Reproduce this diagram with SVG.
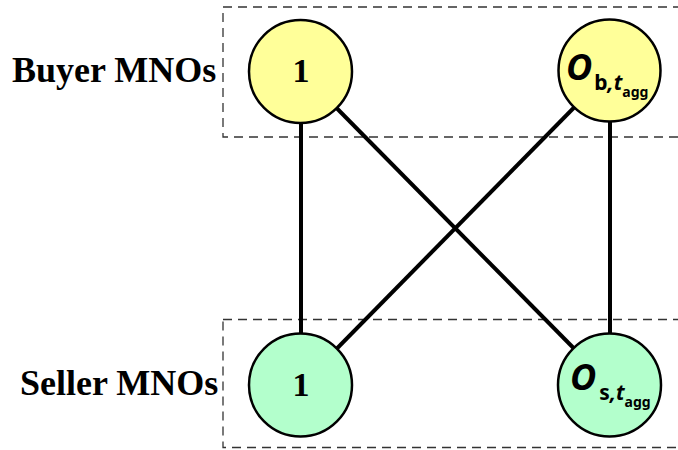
<svg xmlns="http://www.w3.org/2000/svg" width="678" height="450" viewBox="0 0 678 450">
<style>
.box{fill:none;stroke:#333;stroke-width:1.3;stroke-dasharray:9,6}
.edge{stroke:#000;stroke-width:4;fill:none}
.buyer{fill:#ffff99;stroke:#000;stroke-width:2.5}
.seller{fill:#b3ffcc;stroke:#000;stroke-width:2.5}
.lab{font-family:"Liberation Serif","Times New Roman",serif;font-weight:bold;font-size:36px;fill:#000}
.num{font-family:"Liberation Serif","Times New Roman",serif;font-weight:bold;font-size:34px;fill:#000;text-anchor:middle}
.o{font-family:"Noto Sans","DejaVu Sans",sans-serif;font-weight:bold;fill:#000}
</style>
<rect width="678" height="450" fill="#fff"/>
<g id="groups">
<rect class="box" x="223" y="7" width="470" height="130"/>
<rect class="box" x="223" y="319.5" width="470" height="128"/>
</g>
<text class="lab" x="12" y="82">Buyer MNOs</text>
<text class="lab" x="20" y="395">Seller MNOs</text>
<g id="connectors">
<line class="edge" x1="301" y1="72" x2="301" y2="385"/>
<line class="edge" x1="610" y1="71" x2="610" y2="385"/>
<line class="edge" x1="301" y1="72" x2="610" y2="385"/>
<line class="edge" x1="610" y1="71" x2="301" y2="385"/>
</g>
<g id="buyer1">
<circle class="buyer" cx="300.5" cy="71.5" r="51.5"/>
<text class="num" x="301" y="82">1</text>
</g>
<g id="buyerO">
<circle class="buyer" cx="609.5" cy="70.5" r="51"/>
<text class="o" x="566" y="80"><tspan font-size="36" font-style="italic">O</tspan><tspan font-size="21" y="90" dx="2">b</tspan><tspan font-size="21" y="90" font-style="italic">,t</tspan><tspan font-size="14" y="97">agg</tspan></text>
</g>
<g id="seller1">
<circle class="seller" cx="300.5" cy="385" r="51.5"/>
<text class="num" x="301" y="396">1</text>
</g>
<g id="sellerO">
<circle class="seller" cx="609.5" cy="385" r="51.5"/>
<text class="o" x="570" y="390"><tspan font-size="36" font-style="italic">O</tspan><tspan font-size="21" y="400" dx="3">s</tspan><tspan font-size="21" y="400" font-style="italic">,t</tspan><tspan font-size="14" y="407">agg</tspan></text>
</g>
</svg>
